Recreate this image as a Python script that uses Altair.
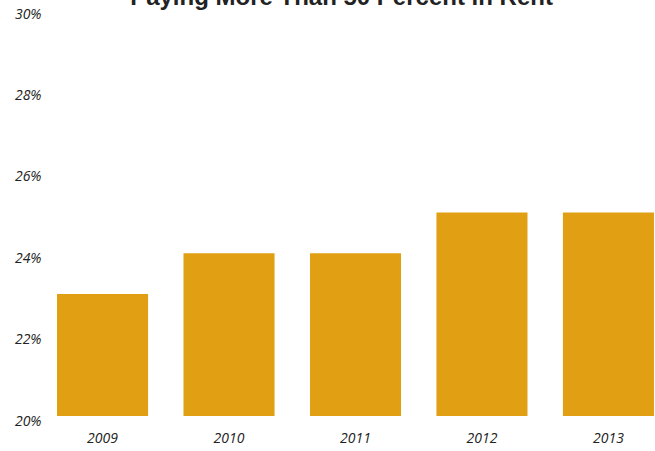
import altair as alt
import pandas as pd

years = ["2009", "2010", "2011", "2012", "2013"]
shares = [0.23, 0.24, 0.24, 0.25, 0.25]
baseline = [0.20, 0.20, 0.20, 0.20, 0.20]
title_text = "Paying More Than 50 Percent in Rent"

df = pd.DataFrame({"year": years, "share": shares, "base": baseline})

chart = (
    alt.Chart(df)
    .mark_bar(color="#E1A014")
    .encode(
        x=alt.X(
            "year:N",
            sort=years,
            scale=alt.Scale(paddingInner=0.28, paddingOuter=0),
            axis=alt.Axis(
                title=None, labelAngle=0, domain=False, ticks=False,
                labelFont="Open Sans", labelFontStyle="italic", labelFontSize=14,
                labelColor="#222222", labelPadding=15,
            ),
        ),
        y=alt.Y(
            "share:Q",
            scale=alt.Scale(domain=[0.20, 0.30], zero=False, nice=False),
            axis=alt.Axis(
                title=None, format=".0%", values=[0.20, 0.22, 0.24, 0.26, 0.28, 0.30],
                domain=False, ticks=False, grid=False,
                labelFont="Open Sans", labelFontStyle="italic", labelFontSize=14,
                labelColor="#222222", labelPadding=16, labelOffset=5,
            ),
        ),
        y2="base:Q",
    )
    .properties(
        width=597,
        height=407,
        autosize=alt.AutoSizeParams(type="none"),
        padding={"left": 57, "top": 9, "right": 1, "bottom": 35},
        title=alt.Title(
            title_text, font="Liberation Sans", fontSize=24, fontWeight="bold",
            color="#222222", offset=-3, anchor="middle", dx=-14,
        ),
    )
    .configure_view(stroke=None)
)

chart.save("out.html", embed_options={"renderer": "svg", "actions": False})
